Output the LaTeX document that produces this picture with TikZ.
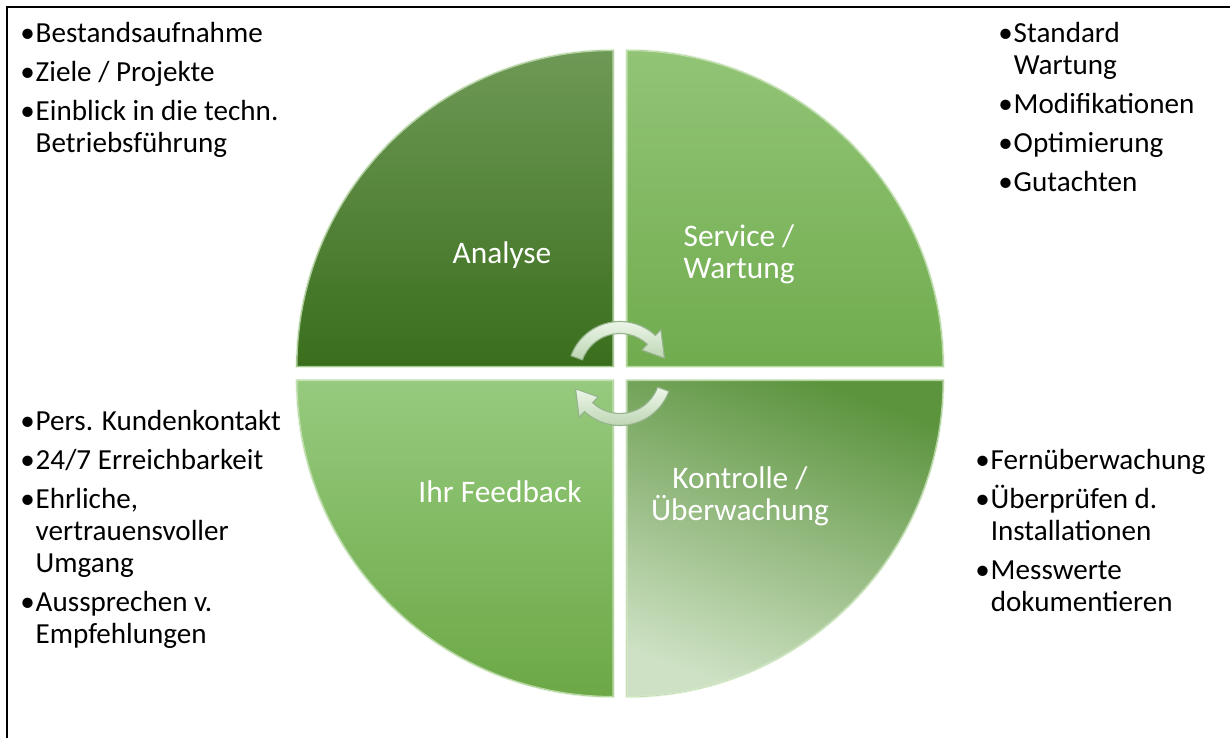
\documentclass[tikz,border=0pt]{standalone}
\usepackage{fontspec}
\setmainfont{Carlito}
\usetikzlibrary{positioning}
\definecolor{frameblack}{RGB}{0,0,0}
\definecolor{bevel}{RGB}{214,238,200}
\definecolor{arrowrim}{RGB}{150,180,140}
\newcommand{\bul}{\makebox[11pt][l]{\textbullet}}
\newcommand{\ind}{\hspace*{11pt}}
\tikzset{
    quad/.style={draw=bevel, draw opacity=0.7, line width=1.5pt, line join=round},
    quadlabel/.style={text=white, align=center, font=\fontsize{22.3}{23}\selectfont},
    infolist/.style={anchor=north west, inner sep=0pt, align=left, font=\fontsize{20.7}{22.7}\selectfont},
    turnarrow/.style={draw=arrowrim, line width=0.8pt, top color={rgb,255:red,238;green,247;blue,234}, bottom color={rgb,255:red,188;green,213;blue,178}},
}

\begin{document}
\begin{tikzpicture}[x=0.025cm,y=0.025cm]
        \useasboundingbox (0,0) rectangle (1230,738);
        \draw[line width=1.4pt,color=frameblack] (6.7,0) -- (6.7,731.3) -- (1230,731.3);
        \coordinate (hub) at (620,364.5);
        % the four quarters
        \filldraw[quad, top color={rgb,255:red,110;green,153;blue,86}, bottom color={rgb,255:red,58;green,110;blue,28}]
            ([shift={(-6.5,6.5)}]hub) -- ++(180:317) arc[start angle=180,end angle=90,radius=317] -- cycle;
        \filldraw[quad, top color={rgb,255:red,146;green,196;blue,118}, bottom color={rgb,255:red,112;green,172;blue,78}]
            ([shift={(6.5,6.5)}]hub) -- ++(90:317) arc[start angle=90,end angle=0,radius=317] -- cycle;
        \filldraw[quad, top color={rgb,255:red,150;green,202;blue,126}, bottom color={rgb,255:red,108;green,168;blue,70}]
            ([shift={(-6.5,-6.5)}]hub) -- ++(270:317) arc[start angle=270,end angle=180,radius=317] -- cycle;
        \filldraw[quad, top color={rgb,255:red,92;green,148;blue,62}, bottom color={rgb,255:red,206;green,225;blue,196}, shading angle=-20]
            ([shift={(6.5,-6.5)}]hub) -- ++(0:317) arc[start angle=0,end angle=-90,radius=317] -- cycle;
        % the turning arrows in the middle
        \begin{scope}[shift={(hub)}]
            \filldraw[turnarrow] (160:52) arc[start angle=160,end angle=47,radius=52] -- (47:60) -- (19:47) -- (47:32) -- (47:40) arc[start angle=47,end angle=160,radius=40] -- cycle;
            \filldraw[turnarrow] (-20:52) arc[start angle=-20,end angle=-133,radius=52] -- (-133:60) -- (-161:47) -- (-133:32) -- (-133:40) arc[start angle=-133,end angle=-20,radius=40] -- cycle;
        \end{scope}
        \node[quadlabel] (analyse) at (502,483) {Analyse};
        \node[quadlabel] (service) at (739,484) {Service /\\Wartung};
        \node[quadlabel] (feedback) at (500,246) {Ihr Feedback};
        \node[quadlabel] (kontrolle) at (740,242) {Kontrolle /\\Überwachung};
        % the lists
        \node[infolist] (analyseinfo) at (20,715.5) {\bul Bestandsaufnahme\\[5pt]\bul Ziele / Projekte\\[5pt]\bul Einblick in die techn.\\\ind Betriebsführung};
        \node[infolist] (serviceinfo) at (998,715.5) {\bul Standard\\\ind Wartung\\[5pt]\bul Modifikationen\\[5pt]\bul Optimierung\\[5pt]\bul Gutachten};
        \node[infolist] (feedbackinfo) at (20,328) {\bul Pers. Kundenkontakt\\[5pt]\bul 24/7 Erreichbarkeit\\[5pt]\bul Ehrliche,\\\ind vertrauensvoller\\\ind Umgang\\[5pt]\bul Aussprechen v.\\\ind Empfehlungen};
        \node[infolist] (kontrolleinfo) at (975,289) {\bul Fernüberwachung\\[5pt]\bul Überprüfen d.\\\ind Installationen\\[5pt]\bul Messwerte\\\ind dokumentieren};
    \end{tikzpicture}
\end{document}
